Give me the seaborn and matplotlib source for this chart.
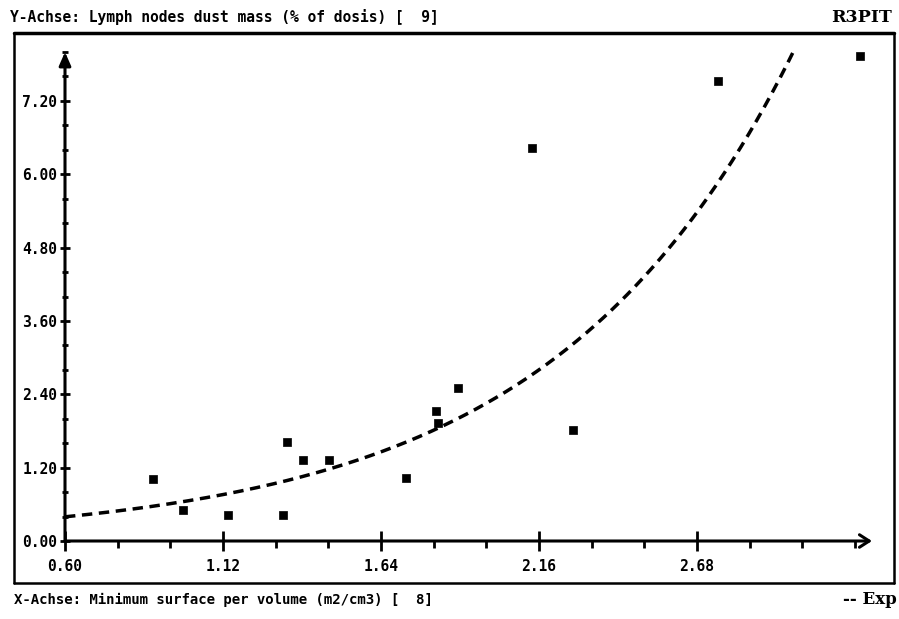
import numpy as np
import pandas as pd
import matplotlib
matplotlib.use("Agg")
import matplotlib.pyplot as plt
from matplotlib.lines import Line2D
from matplotlib.ticker import MultipleLocator, FormatStrFormatter, FixedLocator
import seaborn as sns

# ---- data ----
surface = [0.890, 0.988, 1.137, 1.318, 1.331, 1.383, 1.469, 1.722,
           1.821, 1.827, 1.894, 2.137, 2.272, 2.749, 3.217]
dust = [1.01, 0.51, 0.43, 0.43, 1.62, 1.33, 1.33, 1.03,
        2.13, 1.93, 2.50, 6.43, 1.82, 7.53, 7.94]
x_ticks = [0.60, 1.12, 1.64, 2.16, 2.68]
y_ticks = [0.00, 1.20, 2.40, 3.60, 4.80, 6.00, 7.20]
title_y = "Y-Achse: Lymph nodes dust mass (% of dosis) [  9]"
title_x = "X-Achse: Minimum surface per volume (m2/cm3) [  8]"
corner_tr = "R3PIT"
corner_br = "-- Exp"

df = pd.DataFrame({"x": surface, "y": dust})

# exponential fit (log-linear least squares)
b, lna = np.polyfit(df["x"], np.log(df["y"]), 1)
xmin, xmax = 0.60, 3.256
ymin, ymax = 0.0, 8.0
xs = np.linspace(xmin, xmax, 400)
fit = pd.DataFrame({"x": xs, "y": np.exp(lna + b * xs)})

sns.set_style("white")
plt.rcParams["font.family"] = ["DejaVu Sans Mono", "DejaVu Sans"]
plt.rcParams["text.color"] = "black"
plt.rcParams["xtick.color"] = "black"
plt.rcParams["ytick.color"] = "black"

W, H = 899, 619
fig = plt.figure(figsize=(W / 100, H / 100), dpi=100)
fig.patch.set_facecolor("white")

def fx(px):
    return px / W

def fy(py):
    return 1 - py / H

ax = fig.add_axes([fx(65), fy(541), fx(872) - fx(65), fy(52) - fy(541)])
ax.set_facecolor("white")

sns.lineplot(data=fit, x="x", y="y", ax=ax, color="black", lw=2.5,
             linestyle=(0, (3.0, 1.9)), sort=False)
sns.scatterplot(data=df, x="x", y="y", ax=ax, color="black", marker="s",
                s=36, edgecolor="black", linewidth=0.5, zorder=5)

ax.set_xlim(xmin, xmax)
ax.set_ylim(ymin, ymax)
ax.set_xlabel("")
ax.set_ylabel("")
for sp in ax.spines.values():
    sp.set_visible(False)

# axis arrows
ax.annotate("", xy=(1.0, 0), xytext=(0, 0), xycoords="axes fraction",
            arrowprops=dict(arrowstyle="->,head_length=0.7,head_width=0.45",
                            lw=2.2, color="black", shrinkA=0, shrinkB=0))
ax.annotate("", xy=(0, 1.0), xytext=(0, 0), xycoords="axes fraction",
            arrowprops=dict(arrowstyle="-|>,head_length=0.8,head_width=0.35",
                            lw=2.2, color="black", shrinkA=0, shrinkB=0))

minor_step = (x_ticks[1] - x_ticks[0]) / 3
x_minor = np.arange(x_ticks[0], xmax, minor_step)
ax.xaxis.set_major_locator(FixedLocator(x_ticks))
ax.xaxis.set_minor_locator(FixedLocator(x_minor))
ax.yaxis.set_major_locator(FixedLocator(y_ticks))
ax.yaxis.set_minor_locator(MultipleLocator(0.40))
ax.xaxis.set_major_formatter(FormatStrFormatter("%.2f"))
ax.yaxis.set_major_formatter(FormatStrFormatter("%.2f"))
ax.tick_params(axis="x", which="major", direction="inout", length=14, width=2,
               pad=6, labelsize=10.5, bottom=True)
ax.tick_params(axis="x", which="minor", direction="out", length=5, width=2,
               bottom=True)
ax.tick_params(axis="y", which="major", direction="inout", length=7, width=2,
               pad=2, labelsize=10.5, left=True)
ax.tick_params(axis="y", which="minor", direction="inout", length=5, width=2,
               left=True)
for lab in ax.get_xticklabels() + ax.get_yticklabels():
    lab.set_fontweight("bold")

# outer frame
fig.add_artist(Line2D([fx(14), fx(894)], [fy(33), fy(33)], color="black", lw=2.5,
                      transform=fig.transFigure))
fig.add_artist(Line2D([fx(14), fx(894)], [fy(583), fy(583)], color="black", lw=1.8,
                      transform=fig.transFigure))
fig.add_artist(Line2D([fx(14), fx(14)], [fy(33), fy(583)], color="black", lw=1.8,
                      transform=fig.transFigure))
fig.add_artist(Line2D([fx(894), fx(894)], [fy(33), fy(583)], color="black", lw=1.8,
                      transform=fig.transFigure))

fig.text(fx(10), fy(17), title_y, ha="left", va="center", fontsize=10.5,
         fontweight="bold")
fig.text(fx(14), fy(600), title_x, ha="left", va="center", fontsize=10.1,
         fontweight="bold")
fig.text(fx(892), fy(17), corner_tr, ha="right", va="center", fontsize=12.5,
         fontweight="bold", family=["DejaVu Serif"])
fig.text(fx(897), fy(600), corner_br, ha="right", va="center", fontsize=12,
         fontweight="bold", family=["DejaVu Serif"])

fig.savefig("out.png", dpi=100, facecolor="white")
